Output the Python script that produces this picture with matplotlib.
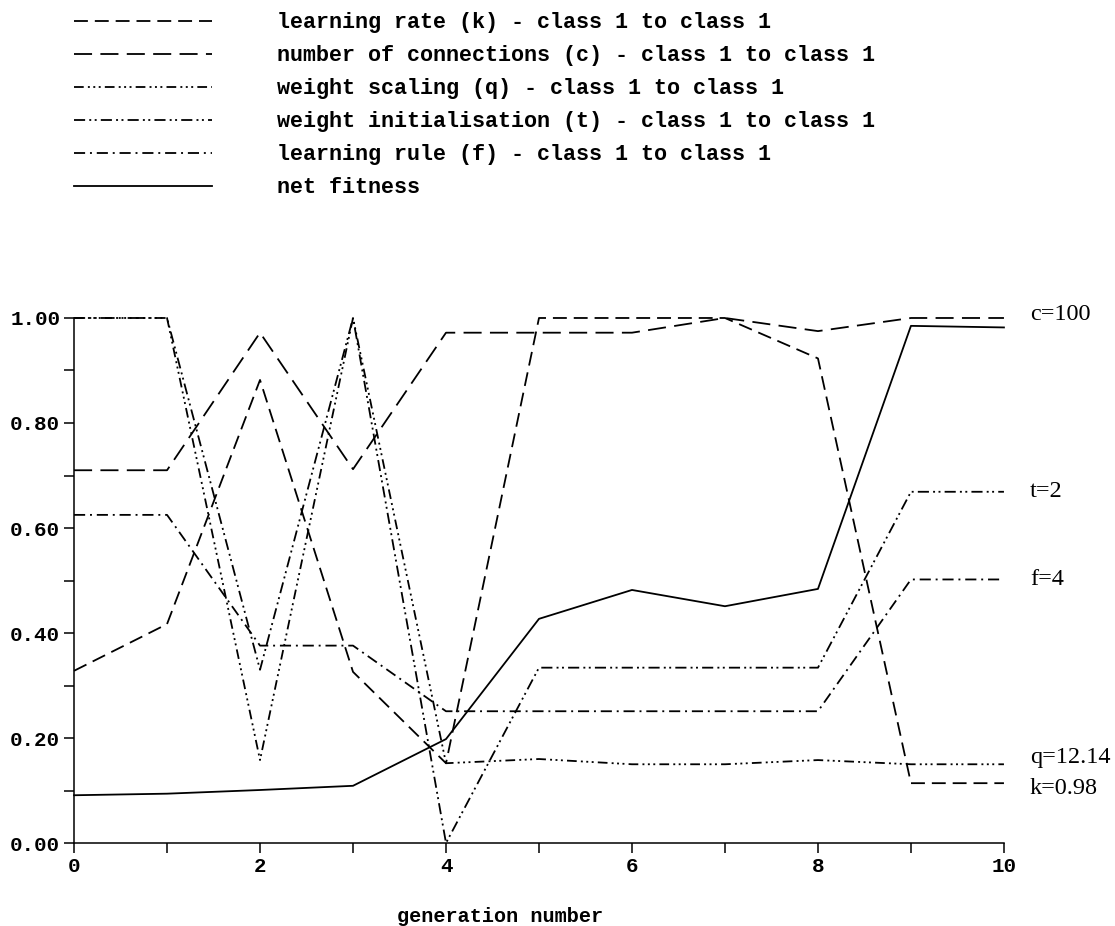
import numpy as np
import matplotlib
matplotlib.use("Agg")
import matplotlib.pyplot as plt

plt.rcParams['font.family'] = ['Liberation Mono', 'DejaVu Sans Mono']
plt.rcParams['font.weight'] = 'bold'
plt.rcParams['lines.scale_dashes'] = False

# generation number
gen = np.arange(0, 11)
# normalised parameter values per generation
k_rate = [0.328, 0.417, 0.882, 0.326, 0.152, 1.0, 1.0, 1.0, 0.923, 0.114, 0.114]
c_conn = [0.71, 0.71, 0.972, 0.712, 0.972, 0.972, 0.972, 1.0, 0.975, 1.0, 1.0]
q_scale = [1.0, 1.0, 0.158, 1.0, 0.152, 0.16, 0.15, 0.15, 0.158, 0.15, 0.15]
t_init = [1.0, 1.0, 0.33, 1.0, 0.0, 0.334, 0.334, 0.334, 0.334, 0.669, 0.669]
f_rule = [0.625, 0.625, 0.376, 0.376, 0.251, 0.251, 0.251, 0.251, 0.251, 0.502, 0.502]
fitness = [0.091, 0.094, 0.101, 0.109, 0.198, 0.427, 0.482, 0.451, 0.484, 0.985, 0.982]

labels = ['learning rate (k) - class 1 to class 1',
          'number of connections (c) - class 1 to class 1',
          'weight scaling (q) - class 1 to class 1',
          'weight initialisation (t) - class 1 to class 1',
          'learning rule (f) - class 1 to class 1',
          'net fitness']
end_text = ['k=0.98', 'c=100', 'q=12.14', 't=2', 'f=4', None]
end_nudge = [-0.01, 0.006, 0.012, 0.0, 0.0, 0.0]

series = [k_rate, c_conn, q_scale, t_init, f_rule, fitness]
styles = [(0, (10, 5)),
          (0, (13, 6)),
          (0, (7, 3, 1.4, 2.5, 1.4, 2.5, 1.4, 3)),
          (0, (8, 3, 1.4, 2.5, 1.4, 3)),
          (0, (8, 3.5, 1.4, 3.5)),
          '-']

fig = plt.figure(figsize=(11.15, 9.26), dpi=100)
ax = fig.add_axes([0.0664, 0.0896, 0.834, 0.567])

handles = []
for vals, ls, lab, txt, dy in zip(series, styles, labels, end_text, end_nudge):
    h, = ax.plot(gen, vals, color='black', linestyle=ls, linewidth=1.3,
                 clip_on=False, label=lab)
    handles.append(h)
    if txt:
        ax.text(10.28, vals[-1] + dy, txt, family='Liberation Serif',
                weight='normal', fontsize=17.5, va='center', ha='left')

ax.set_xlim(0, 10)
ax.set_ylim(0, 1.0)
ax.set_xticks(np.arange(0, 11, 2))
ax.set_xticks(np.arange(1, 11, 2), minor=True)
ax.set_yticks(np.arange(0, 1.01, 0.2))
ax.set_yticks(np.arange(0.1, 1.0, 0.2), minor=True)
ax.set_yticklabels(['%.2f' % v for v in np.arange(0, 1.01, 0.2)])
ax.tick_params(which='both', direction='out', length=7, width=1.1,
               labelsize=15, pad=3)
for s in ['top', 'right']:
    ax.spines[s].set_visible(False)
for s in ['left', 'bottom']:
    ax.spines[s].set_linewidth(1.1)

ax.set_xlabel('generation number', fontsize=14.5, fontweight='bold')
ax.xaxis.set_label_coords(0.458, -0.122)

fig.legend(handles=handles, labels=labels, loc='upper left',
           bbox_to_anchor=(0.053, 1.003), frameon=False,
           handlelength=6.3, handletextpad=3.0, labelspacing=0.55,
           borderaxespad=0.3, prop={'weight': 'bold', 'size': 15.7})

fig.savefig('out.png', dpi=100)
